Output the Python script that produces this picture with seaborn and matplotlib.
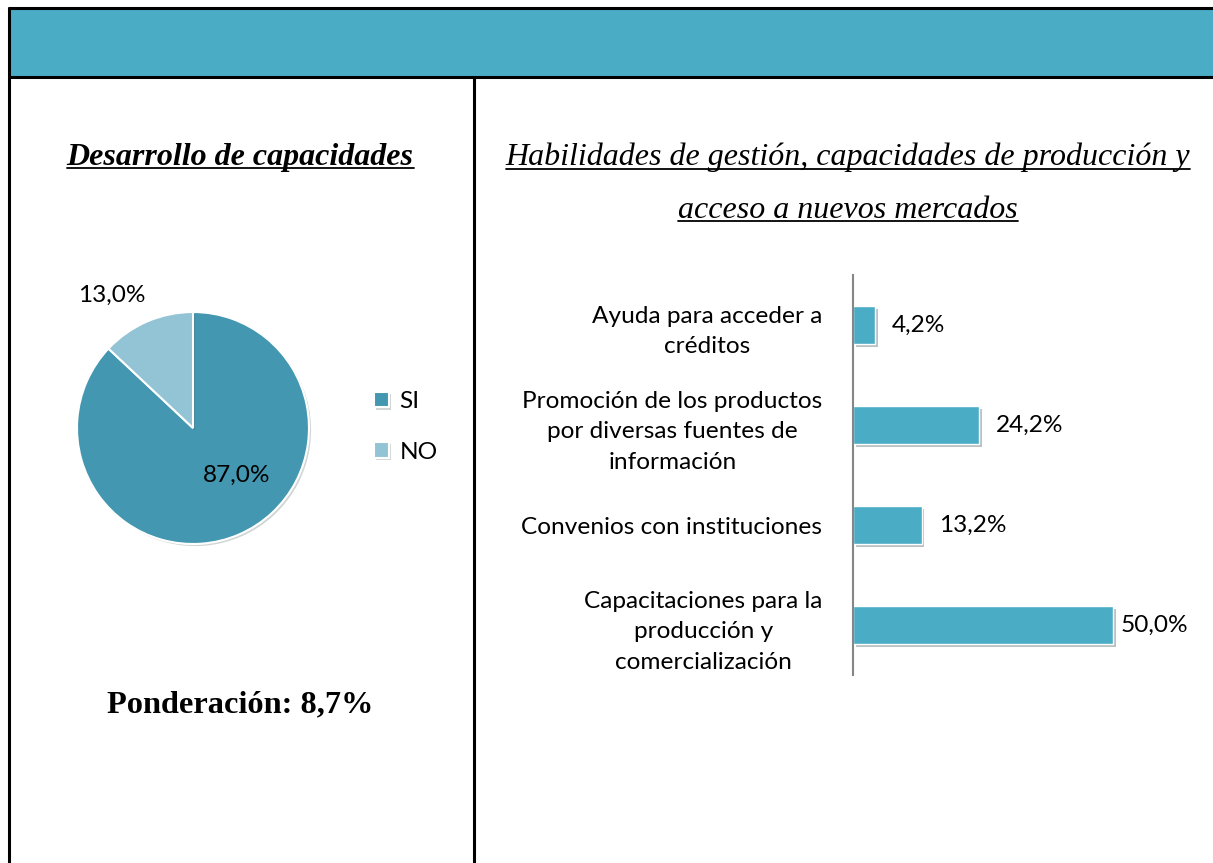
import matplotlib
matplotlib.use('Agg')
import matplotlib.pyplot as plt
import matplotlib.patheffects as pe
from matplotlib.lines import Line2D
from matplotlib.patches import Rectangle
import seaborn as sns
import pandas as pd

# data
pie_labels = ['SI', 'NO']
pie_values = [87.0, 13.0]
bar_labels = ['Ayuda para acceder a\ncréditos',
              'Promoción de los productos\npor diversas fuentes de\ninformación',
              'Convenios con instituciones',
              'Capacitaciones para la\nproducción y\ncomercialización']
bar_values = [4.2, 24.2, 13.2, 50.0]
ponderacion = '8,7%'

W, H = 1213, 863
sns.set_style('white')
plt.rcParams['font.family'] = ['Lato', 'DejaVu Sans']
plt.rcParams['text.color'] = 'black'
plt.rcParams['ytick.color'] = 'black'
plt.rcParams['ytick.labelcolor'] = 'black'

fig = plt.figure(figsize=(W / 100, H / 100), dpi=100)


def fx(x):
    return x / W


def fy(y):
    return 1 - y / H


# table frame
fig.add_artist(Rectangle((fx(9), fy(77)), fx(1213 - 9), 68 / H, transform=fig.transFigure,
                         facecolor='#4bacc6', edgecolor='none'))
for xs, ys in [((9, 1213), (8, 8)), ((9, 1213), (77, 77)), ((9, 9), (8, 863)), ((474, 474), (77, 863))]:
    fig.add_artist(Line2D([fx(xs[0]), fx(xs[1])], [fy(ys[0]), fy(ys[1])], transform=fig.transFigure,
                          color='black', lw=2.2))


def underlined(x, y, s, **kw):
    t = fig.text(fx(x), fy(y), s, ha='center', va='center', family='Liberation Serif',
                 color='black', **kw)
    fig.canvas.draw()
    bb = t.get_window_extent()
    yl = bb.y0 + 3
    fig.add_artist(Line2D([bb.x0 / W, bb.x1 / W], [yl / H, yl / H], transform=fig.transFigure,
                          color='black', lw=1.3))
    return t


underlined(240, 157, 'Desarrollo de capacidades', fontsize=23, fontweight='bold', style='italic')
underlined(848, 157, 'Habilidades de gestión, capacidades de producción y', fontsize=23, style='italic')
underlined(848, 210, 'acceso a nuevos mercados', fontsize=23, style='italic')

fig.text(fx(240), fy(705), f'Ponderación: {ponderacion}', ha='center', va='center',
         family='Liberation Serif', fontsize=23.3, fontweight='bold', color='black')

# pie
pie_colors = ['#4397b0', '#93c4d5']
r = 116
ax_pie = fig.add_axes([fx(193 - r), fy(428 + r), 2 * r / W, 2 * r / H])
wedges, _ = ax_pie.pie(pie_values, colors=pie_colors, startangle=90, counterclock=False,
                       wedgeprops=dict(edgecolor='white', linewidth=1.5))
for w in wedges:
    w.set_path_effects([pe.SimplePatchShadow(offset=(1.5, -1.5), alpha=0.2), pe.Normal()])
ax_pie.set_xlim(-1, 1)
ax_pie.set_ylim(-1, 1)
ax_pie.text(0.38, -0.41, f'{pie_values[0]:.1f}%'.replace('.', ','), ha='center', va='center', fontsize=17.6)
ax_pie.text(-0.70, 1.14, f'{pie_values[1]:.1f}%'.replace('.', ','), ha='center', va='center', fontsize=17.6)
fig.legend(wedges, pie_labels, loc='center left', bbox_to_anchor=(fx(352), fy(427)),
           frameon=False, fontsize=17.6, handlelength=0.6, handleheight=0.6, handletextpad=0.45,
           labelspacing=1.2)

# bars
df = pd.DataFrame({'label': bar_labels, 'value': bar_values})
ax = fig.add_axes([fx(853), fy(675), 347 / W, 400 / H])
sns.barplot(data=df, y='label', x='value', orient='h', color='#4bacc6', width=0.38,
            saturation=1, ax=ax, edgecolor='white', linewidth=1)
for p in ax.patches:
    p.set_path_effects([pe.SimplePatchShadow(offset=(2, -2.5), alpha=0.3), pe.Normal()])
ax.set_xlim(0, 347 / 5.2)
ax.set_ylim(3.5, -0.5)
ax.set_xlabel('')
ax.set_ylabel('')
ax.set_xticks([])
ax.tick_params(axis='y', length=0, pad=22, labelsize=17.6)
for t in ax.get_yticklabels():
    t.set_multialignment('center')
    t.set_linespacing(1.55)
for s in ['top', 'right', 'bottom']:
    ax.spines[s].set_visible(False)
ax.spines['left'].set_color('#868686')
ax.spines['left'].set_linewidth(1.5)
ax.set_facecolor('none')
for i, v in enumerate(bar_values):
    ax.text(min(v + 3.3, 51.5), i, f'{v:.1f}%'.replace('.', ','), va='center', ha='left', fontsize=17.6)

fig.savefig('out.png', dpi=100)
